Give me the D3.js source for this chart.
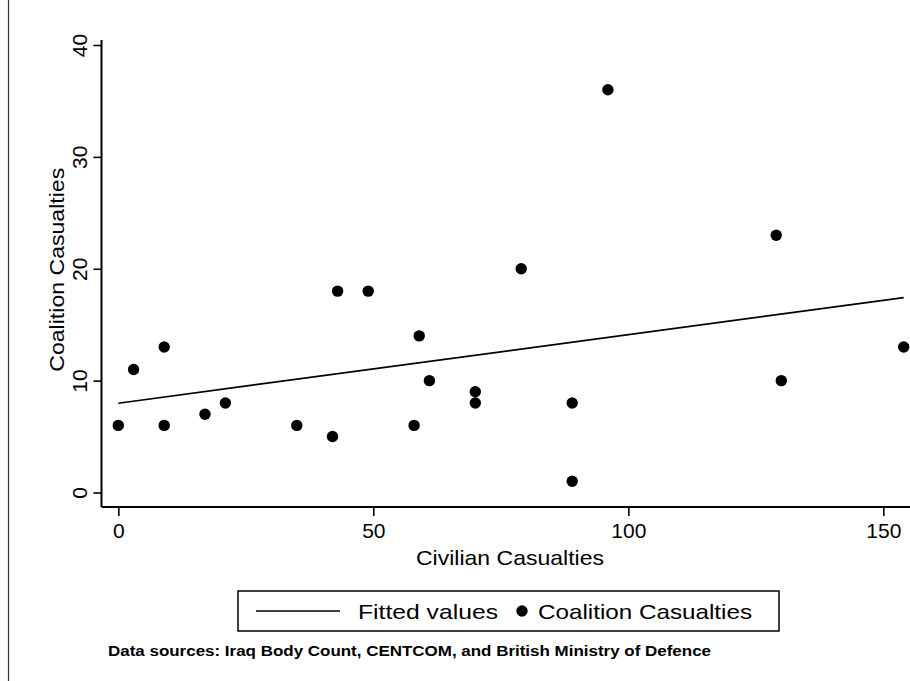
<!DOCTYPE html>
<html>
<head>
<meta charset="utf-8">
<script src="https://cdn.jsdelivr.net/npm/d3@7"></script>
<style>
  html, body { margin: 0; padding: 0; background: #fff; }
  svg { display: block; font-family: "Liberation Sans", Arial, Helvetica, sans-serif; }
</style>
</head>
<body>
<div id="chart"></div>
<script>
// Monthly civilian vs. coalition casualties
const civilian  = [0, 3, 9, 9, 17, 21, 35, 42, 43, 49, 58, 59, 61, 70, 70, 79, 89, 89, 96, 129, 130, 154];
const coalition = [6, 11, 13, 6, 7, 8, 6, 5, 18, 18, 6, 14, 10, 9, 8, 20, 8, 1, 36, 23, 10, 13];
const xTicks = [0, 50, 100, 150];
const yTicks = [0, 10, 20, 30, 40];
const xTitle = "Civilian Casualties";
const yTitle = "Coalition Casualties";
const legendLabels = ["Fitted values", "Coalition Casualties"];
const note = "Data sources: Iraq Body Count, CENTCOM, and British Ministry of Defence";

const W = 910, H = 681;
const svg = d3.select("#chart").append("svg").attr("width", W).attr("height", H);

// plot region edges (axis lines run along these)
const plotLeft = 101.5, plotBottom = 507, plotTop = 40, plotRight = 910;

const x = d3.scaleLinear().domain([0, 150]).range([118.3, 883.3]);
const y = d3.scaleLinear().domain([0, 40]).range([492.5, 45]);

const points = civilian.map((c, i) => ({ x: c, y: coalition[i] }));

// ordinary least squares fit of coalition on civilian
const mx = d3.mean(civilian), my = d3.mean(coalition);
const sxy = d3.sum(points, p => (p.x - mx) * (p.y - my));
const sxx = d3.sum(points, p => (p.x - mx) ** 2);
const slope = sxy / sxx, intercept = my - slope * mx;
const [xmin, xmax] = d3.extent(civilian);
const fitted = [xmin, xmax].map(v => ({ x: v, y: intercept + slope * v }));

// outer border fragment on the left
svg.append("line").attr("x1", 8.5).attr("x2", 8.5).attr("y1", 0).attr("y2", H)
  .attr("stroke", "#333").attr("stroke-width", 1.2);

// fitted line
svg.append("path").datum(fitted)
  .attr("d", d3.line().x(d => x(d.x)).y(d => y(d.y)))
  .attr("fill", "none").attr("stroke", "#000").attr("stroke-width", 1.7);

// scatter points
svg.append("g").selectAll("circle").data(points).join("circle")
  .attr("cx", d => x(d.x)).attr("cy", d => y(d.y)).attr("r", 5.7).attr("fill", "#000");

// y axis
const yAxis = svg.append("g").attr("transform", `translate(${plotLeft},0)`)
  .call(d3.axisLeft(y).tickValues(yTicks).tickSize(8).tickFormat(d3.format("d")));
yAxis.select(".domain").remove();
yAxis.selectAll(".tick line").attr("stroke", "#000").attr("stroke-width", 1.6);
yAxis.selectAll(".tick text")
  .attr("x", null).attr("dy", null)
  .attr("transform", "translate(-14.5,0) rotate(-90)")
  .attr("text-anchor", "middle")
  .attr("font-size", 21).attr("font-family", "Liberation Sans, Arial, sans-serif").attr("fill", "#000");
svg.append("line").attr("x1", plotLeft).attr("x2", plotLeft).attr("y1", plotTop).attr("y2", plotBottom)
  .attr("stroke", "#000").attr("stroke-width", 2);

// x axis
const xAxis = svg.append("g").attr("transform", `translate(0,${plotBottom})`)
  .call(d3.axisBottom(x).tickValues(xTicks).tickSize(9).tickFormat(d3.format("d")));
xAxis.select(".domain").remove();
xAxis.selectAll(".tick line").attr("stroke", "#000").attr("stroke-width", 1.6);
xAxis.selectAll(".tick text")
  .attr("y", 31).attr("dy", null)
  .attr("font-size", 21).attr("font-family", "Liberation Sans, Arial, sans-serif").attr("fill", "#000");
svg.append("line").attr("x1", plotLeft).attr("x2", plotRight).attr("y1", plotBottom).attr("y2", plotBottom)
  .attr("stroke", "#000").attr("stroke-width", 2);

// axis titles
svg.append("text").attr("x", 510).attr("y", 565)
  .attr("text-anchor", "middle").attr("font-size", 21)
  .attr("textLength", 188).attr("lengthAdjust", "spacingAndGlyphs").text(xTitle);
svg.append("text").attr("transform", `translate(64,${(y(0) + y(40)) / 2 + 1}) rotate(-90)`)
  .attr("text-anchor", "middle").attr("font-size", 21)
  .attr("textLength", 204).attr("lengthAdjust", "spacingAndGlyphs").text(yTitle);

// legend
const lg = svg.append("g");
const lgTop = 591, lgBottom = 631, lgMid = (lgTop + lgBottom) / 2;
lg.append("rect").attr("x", 238).attr("y", lgTop).attr("width", 541).attr("height", lgBottom - lgTop)
  .attr("fill", "#fff").attr("stroke", "#000").attr("stroke-width", 1.5);
lg.append("line").attr("x1", 256).attr("x2", 340).attr("y1", lgMid).attr("y2", lgMid)
  .attr("stroke", "#000").attr("stroke-width", 1.7);
lg.append("text").attr("x", 358).attr("y", lgMid + 7.5).attr("font-size", 21)
  .attr("textLength", 140).attr("lengthAdjust", "spacingAndGlyphs").text(legendLabels[0]);
lg.append("circle").attr("cx", 522).attr("cy", lgMid).attr("r", 5.7).attr("fill", "#000");
lg.append("text").attr("x", 538).attr("y", lgMid + 7.5).attr("font-size", 21)
  .attr("textLength", 214).attr("lengthAdjust", "spacingAndGlyphs").text(legendLabels[1]);

// source note
svg.append("text").attr("x", 108).attr("y", 656).attr("font-size", 14).attr("font-weight", "bold")
  .attr("textLength", 603).attr("lengthAdjust", "spacingAndGlyphs").text(note);
</script>
</body>
</html>
